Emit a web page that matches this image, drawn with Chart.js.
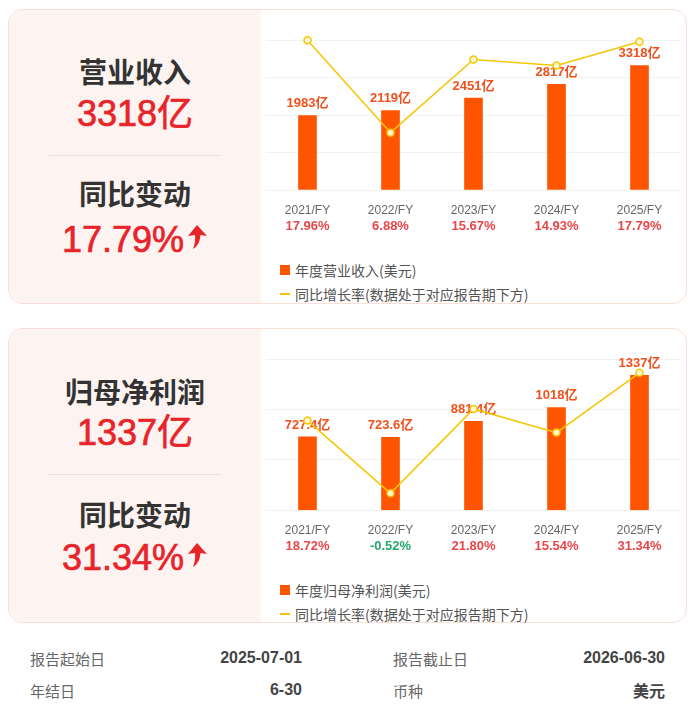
<!DOCTYPE html>
<html><head><meta charset="utf-8">
<script src="https://cdn.jsdelivr.net/npm/chart.js@4"></script>
<style>
html,body{margin:0;padding:0;background:#fff;width:696px;height:711px;overflow:hidden;font-family:"Liberation Sans","Noto Sans CJK SC",sans-serif;}
.card{position:absolute;left:8px;width:679px;height:295px;border:1px solid #f8e0d8;border-radius:14px;overflow:hidden;background:#fff;box-sizing:border-box;}
.lp{position:absolute;left:0;top:0;width:252px;height:100%;background:#fdf4f1;}
.t{position:absolute;left:0;width:252px;text-align:center;white-space:nowrap;}
.title{font-family:"Noto Sans CJK SC",sans-serif;font-weight:700;font-size:28px;color:#333;line-height:1;}
.num{font-size:36px;color:#e8242b;line-height:1;-webkit-text-stroke:0.7px #e8242b;}
.div{position:absolute;left:40px;width:172px;height:1px;background:#f3ddd6;}
canvas{position:absolute;}
.lg{position:absolute;left:295px;font-family:"Noto Sans CJK SC",sans-serif;font-size:14px;color:#555;line-height:1;white-space:nowrap;}
.sq{position:absolute;left:280px;width:10px;height:10px;background:#ff5500;}
.ln{position:absolute;left:280px;width:10px;height:2px;background:#f7c600;}
.tb{position:absolute;font-size:15px;color:#666;line-height:1;font-family:"Noto Sans CJK SC",sans-serif;white-space:nowrap;}
.tv{position:absolute;font-size:16px;color:#444;font-weight:700;line-height:1;white-space:nowrap;text-align:right;}
</style></head>
<body>
<div class="card" style="top:9px"><div class="lp"></div>
  <div class="t title" style="top:47px">营业收入</div>
  <div class="t num" style="top:86px">3318亿</div>
  <div class="div" style="top:145px"></div>
  <div class="t title" style="top:169px">同比变动</div>
  <div class="t num" style="top:212px">17.79%<svg width="22" height="26" viewBox="0 0 22 26" style="vertical-align:2px;margin-left:2px"><path d="M11 1 L21 12 L14.5 11 C14 17 12 22 7 25 C9 20 9.5 15 9 11 L2 12 Z" fill="#e8242b"/></svg></div>
</div>
<div class="card" style="top:328px"><div class="lp"></div>
  <div class="t title" style="top:48px">归母净利润</div>
  <div class="t num" style="top:86px">1337亿</div>
  <div class="div" style="top:145px"></div>
  <div class="t title" style="top:171px">同比变动</div>
  <div class="t num" style="top:211px">31.34%<svg width="22" height="26" viewBox="0 0 22 26" style="vertical-align:2px;margin-left:2px"><path d="M11 1 L21 12 L14.5 11 C14 17 12 22 7 25 C9 20 9.5 15 9 11 L2 12 Z" fill="#e8242b"/></svg></div>
</div>

<canvas id="c1" width="428" height="235" style="left:260px;top:10px"></canvas>
<canvas id="c2" width="428" height="235" style="left:260px;top:329px"></canvas>

<div class="sq" style="top:265px"></div><div class="lg" style="top:263px">年度营业收入(美元)</div>
<div class="ln" style="top:293px"></div><div class="lg" style="top:287px">同比增长率(数据处于对应报告期下方)</div>
<div class="sq" style="top:585px"></div><div class="lg" style="top:583px">年度归母净利润(美元)</div>
<div class="ln" style="top:613px"></div><div class="lg" style="top:607px">同比增长率(数据处于对应报告期下方)</div>

<div class="tb" style="left:30px;top:651px">报告起始日</div>
<div class="tv" style="right:394px;top:650px">2025-07-01</div>
<div class="tb" style="left:393px;top:651px">报告截止日</div>
<div class="tv" style="right:31px;top:650px">2026-06-30</div>
<div class="tb" style="left:30px;top:683px">年结日</div>
<div class="tv" style="right:394px;top:682px">6-30</div>
<div class="tb" style="left:393px;top:683px">币种</div>
<div class="tv" style="right:31px;top:682px;font-family:'Noto Sans CJK SC'">美元</div>

<script>
const years = ['2021/FY','2022/FY','2023/FY','2024/FY','2025/FY'];
const revenue = [1983, 2119, 2451, 2817, 3318];
const revenueGrowth = [17.96, 6.88, 15.67, 14.93, 17.79];
const profit = [727.4, 723.6, 881.4, 1018, 1337];
const profitGrowth = [18.72, -0.52, 21.80, 15.54, 31.34];

const BAR = '#ff5500', LINE = '#f7c600', LABEL = '#f0501c';
const FONT = '"Liberation Sans","Noto Sans CJK SC",sans-serif';

const barLabels = {
  id: 'barLabels',
  afterDatasetDraw(chart, args) {
    if (chart.data.datasets[args.index].type !== 'bar') return;
    const ctx = chart.ctx;
    ctx.save();
    ctx.font = 'bold 13px ' + FONT;
    ctx.fillStyle = LABEL;
    ctx.textAlign = 'center';
    ctx.textBaseline = 'middle';
    args.meta.data.forEach((el, i) => {
      const v = chart.data.datasets[args.index].data[i];
      ctx.fillText(Number(v).toPrecision(4) + '亿', el.x, el.y - 12);
    });
    ctx.restore();
  }
};

// growth rates shown under each category label
const growthLabels = {
  id: 'growthLabels',
  afterDraw(chart) {
    const growth = chart.data.datasets.find(d => d.type === 'line').data;
    const xs = chart.scales.x, base = chart.scales.y.getPixelForValue(0);
    const ctx = chart.ctx;
    ctx.save();
    ctx.font = 'bold 13px ' + FONT;
    ctx.textAlign = 'center';
    ctx.textBaseline = 'middle';
    growth.forEach((g, i) => {
      ctx.fillStyle = g < 0 ? '#27a86a' : '#e8474a';
      ctx.fillText(g.toFixed(2) + '%', xs.getPixelForValue(i), base + 36);
    });
    ctx.restore();
  }
};

function make(id, bars, growth, yMax, yStep, y1Min, y1Max, padBottom) {
  new Chart(document.getElementById(id), {
    data: {
      labels: years,
      datasets: [
        { type: 'line', data: growth, yAxisID: 'y1', order: 0, borderColor: LINE, borderWidth: 1.5,
          pointRadius: 3.5, pointBorderWidth: 1.5, pointBackgroundColor: '#fff8d6', pointBorderColor: LINE,
          tension: 0, clip: false },
        { type: 'bar', data: bars, yAxisID: 'y', order: 1, backgroundColor: BAR, barThickness: 18 }
      ]
    },
    plugins: [barLabels, growthLabels],
    options: {
      responsive: false, animation: false, devicePixelRatio: 1,
      layout: { padding: { top: 30, left: 6, right: 7, bottom: padBottom } },
      plugins: { legend: { display: false }, tooltip: { enabled: false } },
      scales: {
        x: { offset: true, grid: { display: false, drawTicks: false }, border: { display: false },
             ticks: { color: '#666', font: { size: 12, family: FONT }, padding: 13, maxRotation: 0 },
             afterFit: s => { s.height = 46; } },
        y: { position: 'left', min: 0, max: yMax, ticks: { display: false, stepSize: yStep },
             grid: { color: '#f2f2f2', drawTicks: false }, border: { display: false } },
        y1: { position: 'right', display: false, min: y1Min, max: y1Max }
      }
    }
  });
}
make('c1', revenue, revenueGrowth, 4000, 1000, 0, 18, 9);
make('c2', profit, profitGrowth, 1500, 500, -5, 35, 7.7);
</script>
</body></html>
